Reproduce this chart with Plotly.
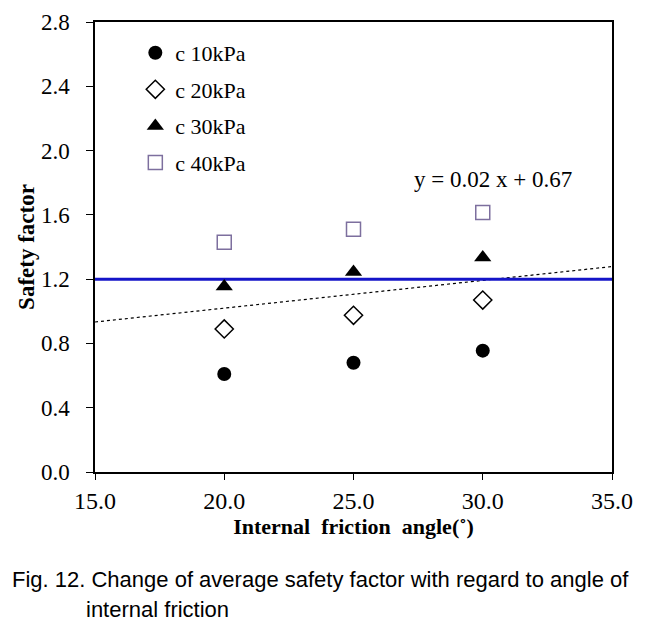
import numpy as np
import plotly.graph_objects as go

angles = [20, 25, 30]
c10 = [0.61, 0.68, 0.755]
c20 = [0.89, 0.975, 1.07]
c30 = [1.155, 1.245, 1.335]
c40 = [1.43, 1.51, 1.615]
series_names = ["c 10kPa", "c 20kPa", "c 30kPa", "c 40kPa"]
criterion = 1.2
x_ticks = [15, 20, 25, 30, 35]
y_ticks = [0.0, 0.4, 0.8, 1.2, 1.6, 2.0, 2.4, 2.8]

serif = "Liberation Serif, Times New Roman, serif"

fig = go.Figure()

# trend line fitted to all points
all_x = np.array(angles * 4, dtype=float)
all_y = np.array(c10 + c20 + c30 + c40)
slope, intercept = np.polyfit(all_x, all_y, 1)
tx = np.array([15.0, 35.0])
fig.add_trace(go.Scatter(x=tx, y=slope * tx + intercept, mode="lines",
                         line=dict(color="black", width=1.2, dash="dot"),
                         showlegend=False, hoverinfo="skip"))
fig.add_trace(go.Scatter(x=[15, 35], y=[criterion, criterion], mode="lines",
                         line=dict(color="#1414c8", width=3),
                         showlegend=False, hoverinfo="skip"))

styles = [
    dict(symbol="circle", size=14, color="black", line=dict(width=0)),
    dict(symbol="diamond-open", size=14, color="black", line=dict(width=1.5, color="black")),
    dict(symbol="triangle-up", size=15, color="black", line=dict(width=0)),
    dict(symbol="square-open", size=14, color="#7d6f9e", line=dict(width=1.5, color="#7d6f9e")),
]
for name, vals, st, g in zip(series_names, [c10, c20, c30, c40], styles, range(4)):
    fig.add_trace(go.Scatter(x=angles, y=vals, mode="markers", name=name,
                             marker=st, legendgroup=f"g{g}"))

fig.update_layout(
    width=645, height=620,
    margin=dict(l=87, r=41, t=14, b=156),
    paper_bgcolor="white", plot_bgcolor="white",
    font=dict(family=serif, size=22, color="black"),
    showlegend=True,
    legend=dict(x=0.078, y=0.978, xanchor="left", yanchor="top",
                bgcolor="rgba(0,0,0,0)", font=dict(family=serif, size=22),
                tracegroupgap=5, itemwidth=30),
    xaxis=dict(range=[15, 35], tickvals=x_ticks, tickformat=".1f", automargin=False,
               showline=True, linecolor="black", linewidth=1.5, mirror=True,
               ticks="outside", ticklen=6, tickcolor="black", showgrid=False, zeroline=False,
               ticklabelstandoff=0, ticklabeloverflow="allow", tickfont=dict(family=serif, size=24),
               title=dict(text="<b>Internal  friction  angle(˚)</b>", font=dict(family=serif, size=22), standoff=6)),
    yaxis=dict(range=[0, 2.8], tickvals=y_ticks, tickformat=".1f", automargin=False,
               showline=True, linecolor="black", linewidth=1.5, mirror=True,
               ticks="outside", ticklen=7, tickcolor="black", showgrid=False, zeroline=False,
               ticklabelstandoff=12, ticklabeloverflow="allow", tickfont=dict(family=serif, size=23),
               title=dict(text="<b>Safety factor</b>", font=dict(family=serif, size=23), standoff=0)),
)

fig.add_annotation(x=30.4, y=1.82, xref="x", yref="y", text=f"y = {slope:.2f} x + {intercept:.2f}",
                   showarrow=False, font=dict(family=serif, size=23))

cap_font = dict(family="Liberation Sans, Arial, sans-serif", size=22, color="black")
fig.add_annotation(x=-0.1644, y=-0.2384, xref="paper", yref="paper", xanchor="left", yanchor="middle",
                   text="Fig. 12. Change of average safety factor with regard to angle of",
                   showarrow=False, font=cap_font)
fig.add_annotation(x=-0.0213, y=-0.3046, xref="paper", yref="paper", xanchor="left", yanchor="middle",
                   text="internal friction", showarrow=False, font=cap_font)

fig.write_html("out.html")
